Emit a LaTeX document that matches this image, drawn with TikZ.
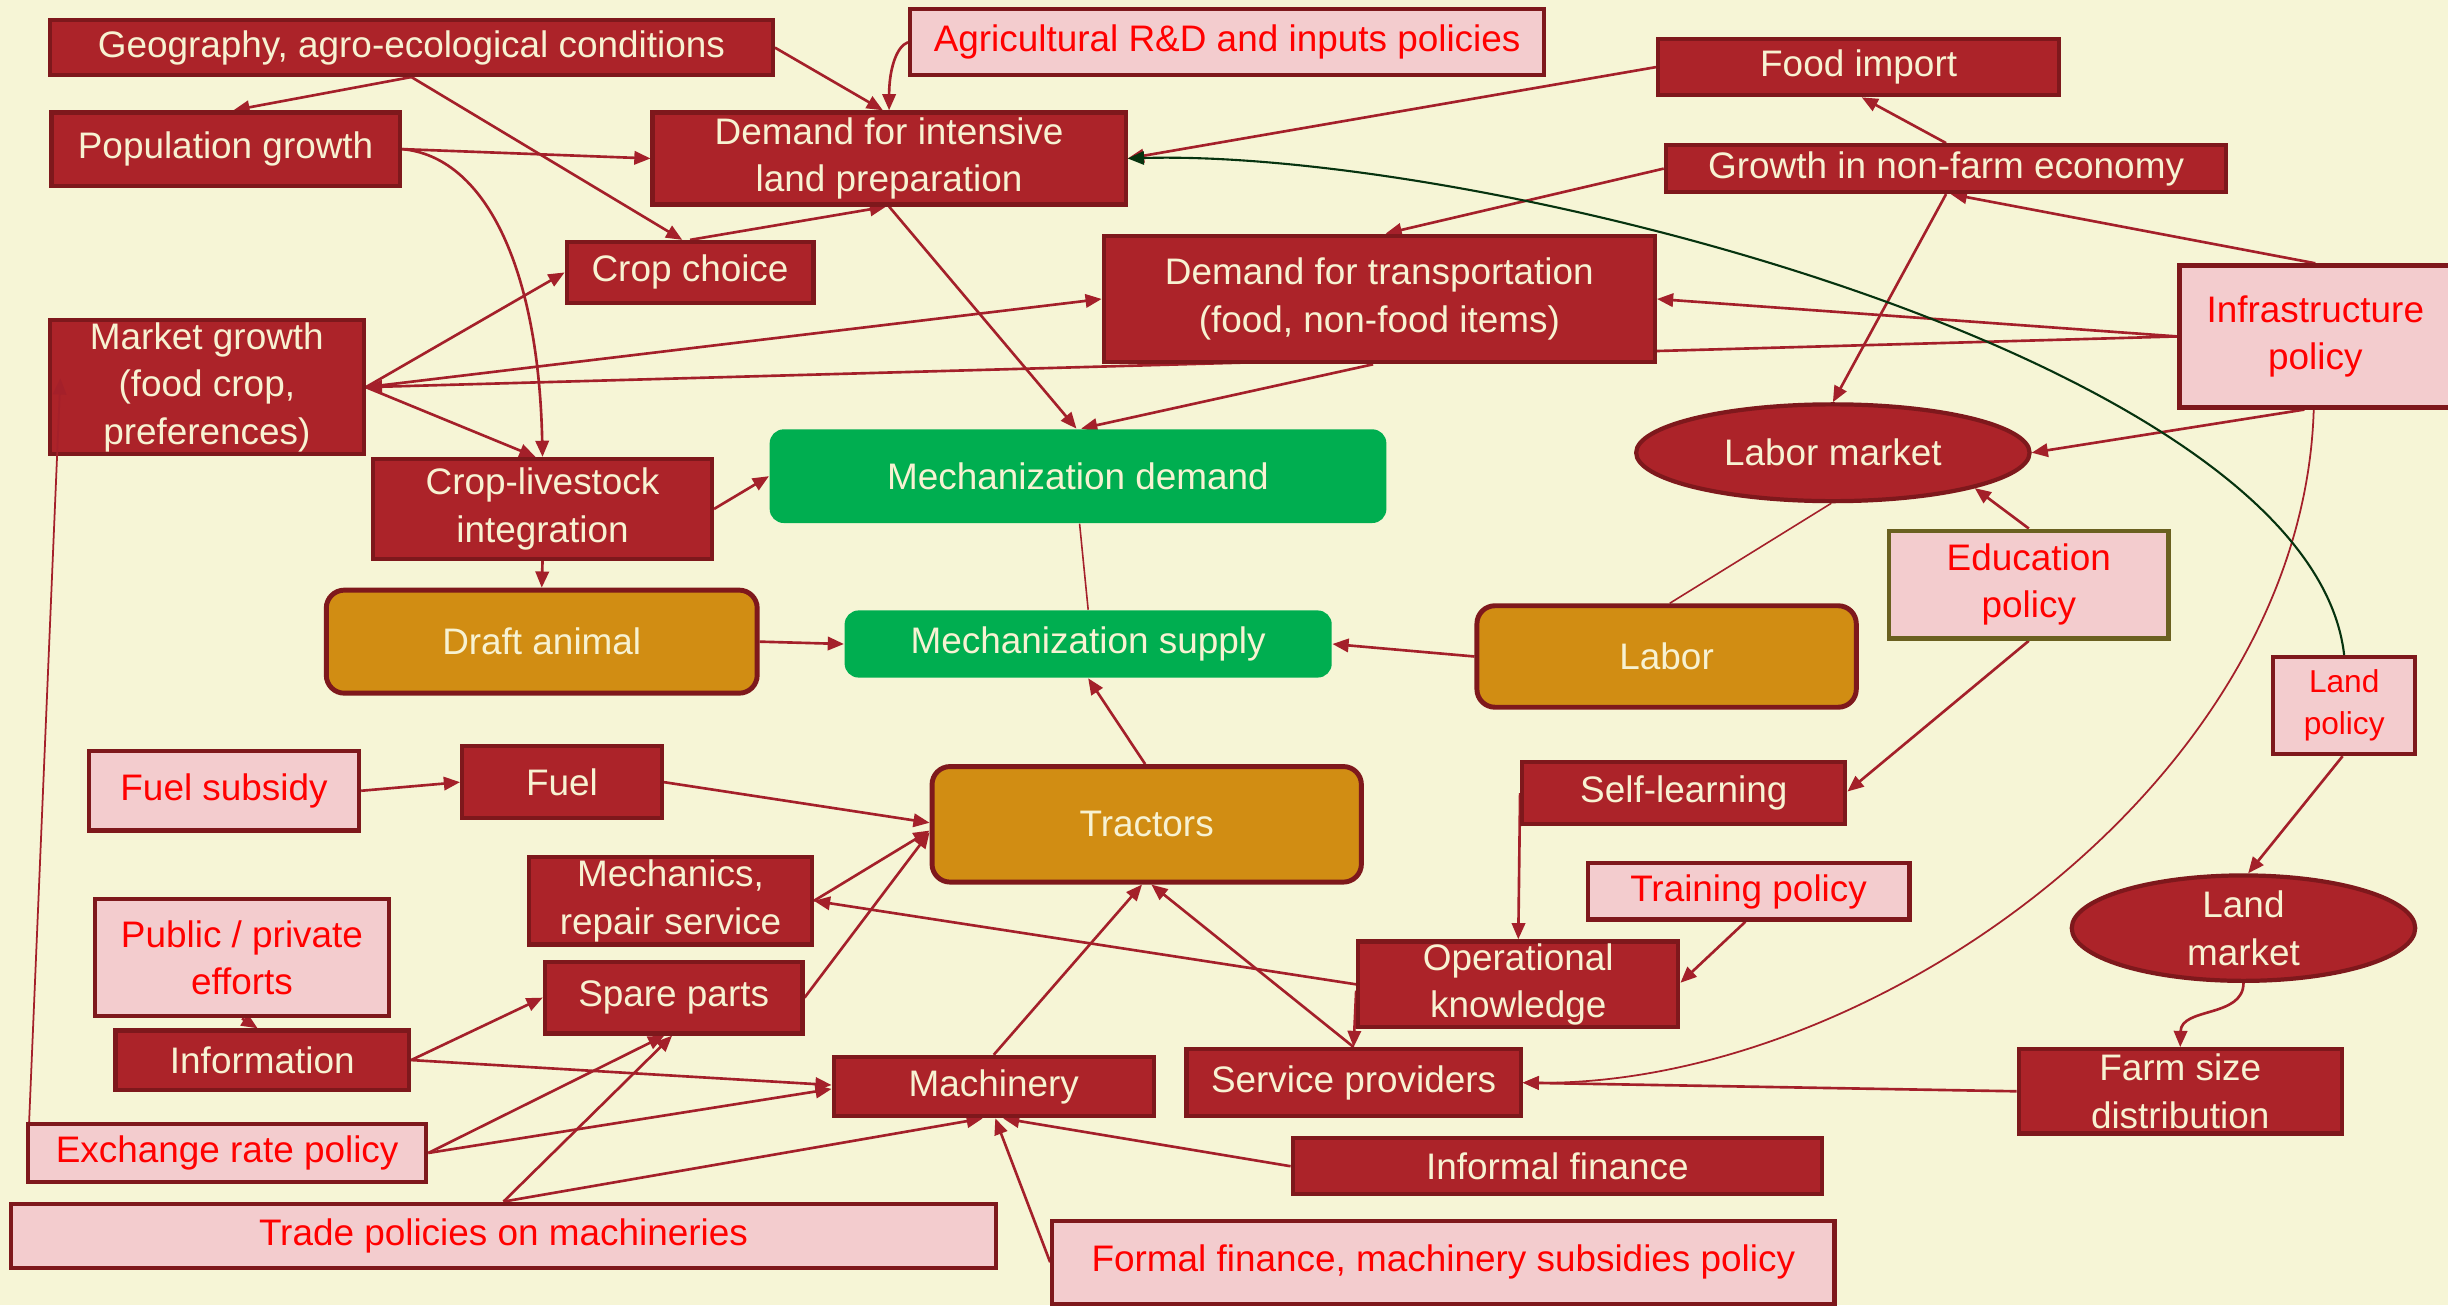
\documentclass[tikz,border=0pt]{standalone}
\usepackage{fontspec}
\setmainfont{Liberation Sans}
\usetikzlibrary{arrows.meta,shapes.geometric,calc,backgrounds}
\definecolor{bgc}{HTML}{F6F5D6}
\definecolor{drfill}{HTML}{AC2329}
\definecolor{drborder}{HTML}{7E181C}
\definecolor{cream}{HTML}{F7F2D2}
\definecolor{pinkfill}{HTML}{F3CCCE}
\definecolor{redtext}{HTML}{FF0000}
\definecolor{greenfill}{HTML}{00AE50}
\definecolor{orangefill}{HTML}{D18D13}
\definecolor{olive}{HTML}{6A6020}
\definecolor{arrowc}{HTML}{A4202A}
\definecolor{darkgreen}{HTML}{06330F}
\def\ux{0.015612cm}
\newcommand\bx[7]{\node[#2, minimum width={(#5-#3)*\ux}, minimum height={(#6-#4)*\ux}] (#1) at ({(#3+#5)/2},{(#4+#6)/2}) {#7};}
\tikzset{
  box/.style={rectangle, inner sep=0pt, align=center, font=\fontsize{10.5}{13.5}\selectfont},
  dr/.style={box, fill=drfill, draw=drborder, line width=1.2pt, text=cream},
  pk/.style={box, fill=pinkfill, draw=drborder, line width=1.2pt, text=redtext},
  pkol/.style={box, fill=pinkfill, draw=olive, line width=1.3pt, text=redtext},
  gr/.style={box, fill=greenfill, rounded corners=0.14cm, text=cream},
  orb/.style={box, fill=orangefill, draw=drborder, line width=1.4pt, rounded corners=0.18cm, text=cream},
  ell/.style={ellipse, inner sep=0pt, align=center, fill=drfill, draw=drborder, line width=1.2pt, text=cream, font=\fontsize{10.5}{13.5}\selectfont},
  tip/.tip={Triangle[length=4.6pt,width=3.8pt]},
  arr/.style={draw=arrowc, line width=0.75pt, -tip},
  thinarr/.style={draw=arrowc, line width=0.5pt, -tip},
  plain/.style={draw=arrowc, line width=0.45pt},
  greenarr/.style={draw=darkgreen, line width=0.6pt, -tip},
}
\begin{document}
\begin{tikzpicture}[x=0.015612cm, y=-0.015612cm]
\useasboundingbox (0,0) rectangle (1568,836);
\begin{pgfonlayer}{background}
\fill[bgc] (0,0) rectangle (1568,836);
\end{pgfonlayer}
% nodes
\bx{geo}{dr}{32}{13}{495}{48}{Geography, agro-ecological conditions}
\bx{agr}{pk}{583}{6}{989}{48}{Agricultural R\&D and inputs policies}
\bx{food}{dr}{1062}{25}{1319}{61}{Food import}
\bx{pop}{dr}{33}{72}{256}{119}{Population growth}
\bx{dil}{dr}{418}{72}{721}{131}{Demand for intensive\\land preparation}
\bx{gnf}{dr}{1067}{93}{1426}{123}{Growth in non-farm economy}
\bx{cc}{dr}{363}{155}{521}{194}{Crop choice}
\bx{dt}{dr}{707}{151}{1060}{232}{Demand for transportation\\(food, non-food items)}
\bx{inf}{pk}{1396}{170}{1570}{261}{Infrastructure\\policy}
\bx{mg}{dr}{32}{205}{233}{291}{Market growth\\(food crop,\\preferences)}
\node[ell, minimum width={252*\ux}, minimum height={62*\ux}] (lm) at (1174,290) {Labor market};
\bx{cl}{dr}{239}{294}{456}{358}{Crop-livestock\\integration}
\bx{md}{gr}{493}{275}{888}{335}{Mechanization demand}
\bx{edu}{pkol}{1210}{340}{1389}{409}{Education\\policy}
\bx{da}{orb}{209}{378}{485}{444}{Draft animal}
\bx{ms}{gr}{541}{391}{853}{434}{Mechanization supply}
\bx{lab}{orb}{946}{388}{1189}{453}{Labor}
\bx{lp}{pk, font=\fontsize{9}{12}\selectfont}{1456}{421}{1547}{483}{Land\\policy}
\bx{fs}{pk}{57}{481}{230}{532}{Fuel subsidy}
\bx{fuel}{dr}{296}{478}{424}{524}{Fuel}
\bx{tr}{orb}{597}{491}{872}{565}{Tractors}
\bx{sl}{dr}{975}{488}{1182}{528}{Self-learning}
\bx{mech}{dr}{339}{549}{520}{605}{Mechanics,\\repair service}
\bx{tp}{pk}{1017}{553}{1223}{589}{Training policy}
\bx{pp}{pk}{61}{576}{249}{651}{Public / private\\efforts}
\bx{sp}{dr}{349}{616}{514}{662}{Spare parts}
\bx{ok}{dr}{870}{603}{1075}{658}{Operational\\knowledge}
\node[ell, minimum width={220*\ux}, minimum height={67*\ux}] (land) at (1437,594.5) {Land\\market};
\bx{info}{dr}{74}{660}{262}{698}{Information}
\bx{mach}{dr}{534}{677}{739}{715}{Machinery}
\bx{spr}{dr}{760}{672}{974}{715}{Service providers}
\bx{fsd}{dr}{1293}{672}{1500}{726}{Farm size\\distribution}
\bx{erp}{pk}{18}{720}{273}{757}{Exchange rate policy}
\bx{inff}{dr}{828}{729}{1167}{765}{Informal finance}
\bx{tpm}{pk}{7}{771}{638}{812}{Trade policies on machineries}
\bx{ffm}{pk}{674}{782}{1175}{835}{Formal finance, machinery subsidies policy}
% connectors
\begin{pgfonlayer}{background}
\draw[arr] (geo.south) -- ($(pop.north)+(5,0)$);
\draw[arr] (geo.south) -- ($(cc.north)+(-5,0)$);
\draw[arr] (geo.east) -- ($(dil.north)+(-4,0)$);
\draw[arr] (agr.west) .. controls +(-8,3) and +(0,-25) .. (dil.north);
\draw[arr] (food.west) -- (dil.east);
\draw[arr] (gnf.north) -- ($(food.south)+(2,0)$);
\draw[arr] (gnf.west) -- ($(dt.north)+(4,0)$);
\draw[arr] (gnf.south) -- (lm.north);
\draw[arr] (inf.north) -- ($(gnf.south)+(3,0)$);
\draw[arr] (inf.west) -- (dt.east);
\draw[arr] (inf.west) -- (mg.east);
\draw[arr] (mg.east) -- (cc.west);
\draw[arr] (mg.east) -- (dt.west);
\draw[arr] (mg.east) -- ($(cl.north)+(-4.5,0)$);
\draw[arr] (pop.east) -- (dil.west);
\draw[arr] (pop.east) .. controls (310,100) and (345,170) .. (cl.north);
\draw[arr] (cc.north) -- ($(dil.south)+(-2,0)$);
\draw[arr] (dil.south) -- ($(md.north)+(-1,0)$);
\draw[arr] ($(dt.south)+(-4,0)$) -- ($(md.north)+(2,0)$);
\draw[arr] (cl.east) -- (md.west);
\draw[arr] (cl.south) -- (da.north);
\draw[arr] (da.east) -- (ms.west);
\draw[plain] ($(md.south)+(1,0)$) -- (ms.north);
\draw[arr] (lab.west) -- (ms.east);
\draw[plain] ($(lm.south)+(-1,0)$) -- ($(lab.north)+(2,0)$);
\draw[arr] ($(inf.south)+(-7,0)$) -- (lm.east);
\draw[arr] (edu.north) -- (lm.-14);
\draw[arr] (edu.south) -- ($(sl.east)+(0,-1)$);
\draw[thinarr] ($(inf.south)+(-1,0)$) .. controls (1475,500) and (1200,695) .. (spr.east);
\draw[greenarr] (lp.north) .. controls (1480,230) and (950,95) .. (dil.east);
\draw[arr] ($(lp.south)+(-1,0)$) -- ($(land.north)+(3,0)$);
\draw[arr] (land.south) .. controls (1437,652) and (1397,645) .. (fsd.north);
\draw[arr] (fsd.west) -- (spr.east);
\draw[arr] (sl.west) -- (ok.north);
\draw[arr] ($(tp.south)+(-2,0)$) -- ($(ok.east)+(0,-1)$);
\draw[arr] (ok.west) -- (mech.east);
\draw[arr] ($(ok.west)+(0,4)$) -- (spr.north);
\draw[arr] (spr.north) -- ($(tr.south)+(3,0)$);
\draw[arr] (mach.north) -- ($(tr.south)+(-3,0)$);
\draw[arr] ($(tr.north)+(-1,0)$) -- (ms.south);
\draw[arr] (fuel.east) -- ($(tr.west)+(0,-1)$);
\draw[arr] (fs.east) -- (fuel.west);
\draw[arr] (mech.east) -- ($(tr.west)+(0,4)$);
\draw[arr] (sp.east) -- ($(tr.west)+(0,5)$);
\draw[arr] (info.east) -- (sp.west);
\draw[arr] (info.east) -- ($(mach.west)+(0,-1)$);
\draw[arr] (pp.south) -- ($(info.north)+(-3,0)$);
\draw[arr] (erp.east) -- ($(sp.south)+(-6,0)$);
\draw[arr] (erp.east) -- ($(mach.west)+(0,1.5)$);
\draw[arr] (tpm.north) -- ($(sp.south)+(-1,0)$);
\draw[arr] (tpm.north) -- ($(mach.south)+(-7,0)$);
\draw[arr] (ffm.west) -- ($(mach.south)+(1,0)$);
\draw[arr] (inff.west) -- ($(mach.south)+(6,0)$);
\end{pgfonlayer}
\draw[thinarr] ($(erp.north west)+(2,0)$) -- ($(mg.south west)+(8,-50)$);
\end{tikzpicture}
\end{document}
